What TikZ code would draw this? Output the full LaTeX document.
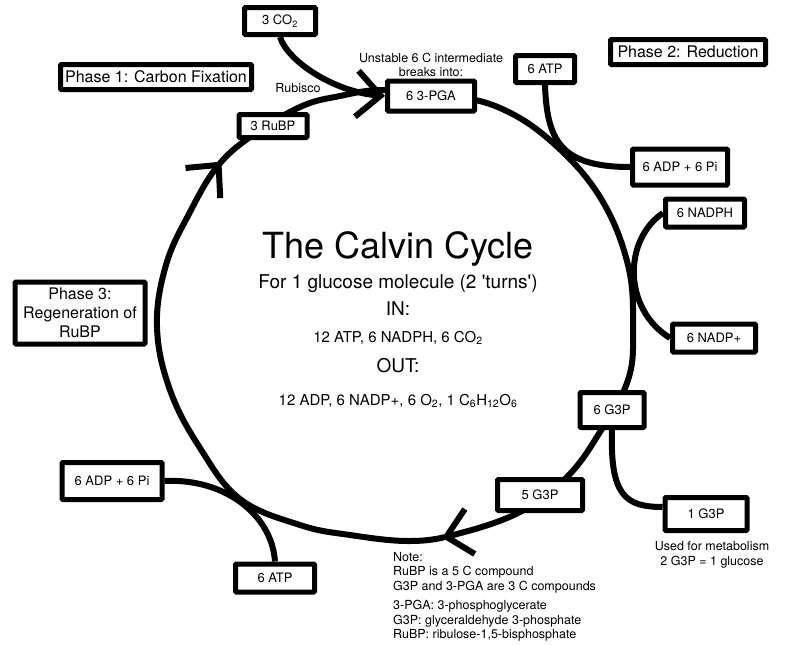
\documentclass[tikz,border=0pt]{standalone}
\usepackage{fontspec}
\setmainfont{TeX Gyre Heros}
\usetikzlibrary{arrows.meta,decorations.markings}

\tikzset{
  cpd/.style={draw,line width=5pt,fill=white,rounded corners=1pt,inner sep=1pt,
    font=\fontsize{13}{15}\selectfont},
  phase/.style={cpd,align=center,font=\fontsize{16}{19}\selectfont},
  link/.style={line width=6pt},
  small/.style={font=\fontsize{12.5}{14.5}\selectfont},
  head/.style={anchor=base,font=\fontsize{19}{22}\selectfont},
  list/.style={anchor=base,font=\fontsize{15}{18}\selectfont},
}

\begin{document}
\begin{tikzpicture}[x=1pt,y=-1pt,>={Straight Barb[length=24pt,width=46pt]}]
  \path[use as bounding box,fill=white] (0,0) rectangle (785,645);
  % the cycle, traced clockwise from the 3-PGA box; the boxes sit on it
  \draw[link,postaction={decorate},decoration={markings,
      mark=at position 0.435 with {\arrow{>}},
      mark=at position 0.834 with {\arrow{>}}}]
    plot[smooth cycle,tension=0.65] coordinates
    {(383,90) (445,95) (500,108) (552,142) (600,197) (628,265)
     (633,330) (628,380) (600,432) (567,477) (520,512) (457,534)
     (410,541) (350,535) (300,525) (240,499) (200,448) (170,390)
     (157,327) (166,265) (190,212) (217,167) (250,137) (300,107)
     (340,96)};

  % phases
  \node[phase,minimum width=191pt,minimum height=25pt] (ph1) at (156,77) {Phase 1: Carbon Fixation};
  \node[phase,minimum width=155pt,minimum height=25pt] (ph2) at (688,52) {Phase 2: Reduction};
  \node[phase,minimum width=130pt,minimum height=62pt] (ph3) at (80,313) {Phase 3:\\Regeneration of\\RuBP};

  % compounds
  \node[cpd,minimum width=71pt,minimum height=27pt] (co2) at (280,21) {3 CO\textsubscript{2}};
  \node[cpd,minimum width=87pt,minimum height=30pt] (pga) at (431,96) {6 3-PGA};
  \node[cpd,minimum width=68pt,minimum height=23pt] (rubp) at (273,126) {3 RuBP};
  \node[cpd,minimum width=59pt,minimum height=27pt] (atp1) at (545,69) {6 ATP};
  \node[cpd,minimum width=95pt,minimum height=36pt] (adp1) at (680,167) {6 ADP + 6 Pi};
  \node[cpd,minimum width=79pt,minimum height=28pt] (nadph) at (705,213) {6 NADPH};
  \node[cpd,minimum width=83pt,minimum height=28pt] (nadpp) at (714,338) {6 NADP+};
  \node[cpd,minimum width=64pt,minimum height=35pt] (g6) at (612,410) {6 G3P};
  \node[cpd,minimum width=85pt,minimum height=31pt] (g5) at (540,495) {5 G3P};
  \node[cpd,minimum width=82pt,minimum height=33pt] (g1) at (706,514) {1 G3P};
  \node[cpd,minimum width=100pt,minimum height=37pt] (adp2) at (112,481) {6 ADP + 6 Pi};
  \node[cpd,minimum width=79pt,minimum height=28pt] (atp2) at (275,578) {6 ATP};

  % side inputs and outputs
  \draw[link,->] (co2.south) .. controls (288,62) and (335,92) .. (pga.west);
  \draw[link] (atp1.south) .. controls (547,140) and (560,167) .. (adp1.west);
  \draw[link] (nadph.west) .. controls (623,240) and (623,309) .. (nadpp.west);
  \draw[link] (g6.south) .. controls (610,495) and (625,507) .. ([yshift=7pt]g1.west);
  \draw[link] (adp2.east) .. controls (225,478) and (272,515) .. (atp2.north);

  % texts
  \node[small] (rubisco) at (298,88) {Rubisco};
  \node[small,align=center] (unstable) at (431,65) {Unstable 6 C intermediate\\breaks into:};
  \node[small,align=center] (metab) at (712,555) {Used for metabolism\\2 G3P = 1 glucose};
  \node[anchor=base,font=\fontsize{36}{40}\selectfont] (title) at (398,258) {The Calvin Cycle};
  \node[head] (turns) at (398,288) {For 1 glucose molecule (2 \textquotesingle turns\textquotesingle)};
  \node[head] (inhead) at (398,315) {IN:};
  \node[list] (inlist) at (398,342) {12 ATP, 6 NADPH, 6 CO\textsubscript{2}};
  \node[head] (outhead) at (398,372) {OUT:};
  \node[list] (outlist) at (398,405) {12 ADP, 6 NADP+, 6 O\textsubscript{2}, 1 C\textsubscript{6}H\textsubscript{12}O\textsubscript{6}};
  \node[small,align=left,anchor=north west,inner sep=0pt] (note) at (393,552)
    {Note:\\RuBP is a 5 C compound\\G3P and 3-PGA are 3 C compounds\\[5pt]
     3-PGA: 3-phosphoglycerate\\G3P: glyceraldehyde 3-phosphate\\RuBP: ribulose-1,5-bisphosphate};
\end{tikzpicture}
\end{document}
